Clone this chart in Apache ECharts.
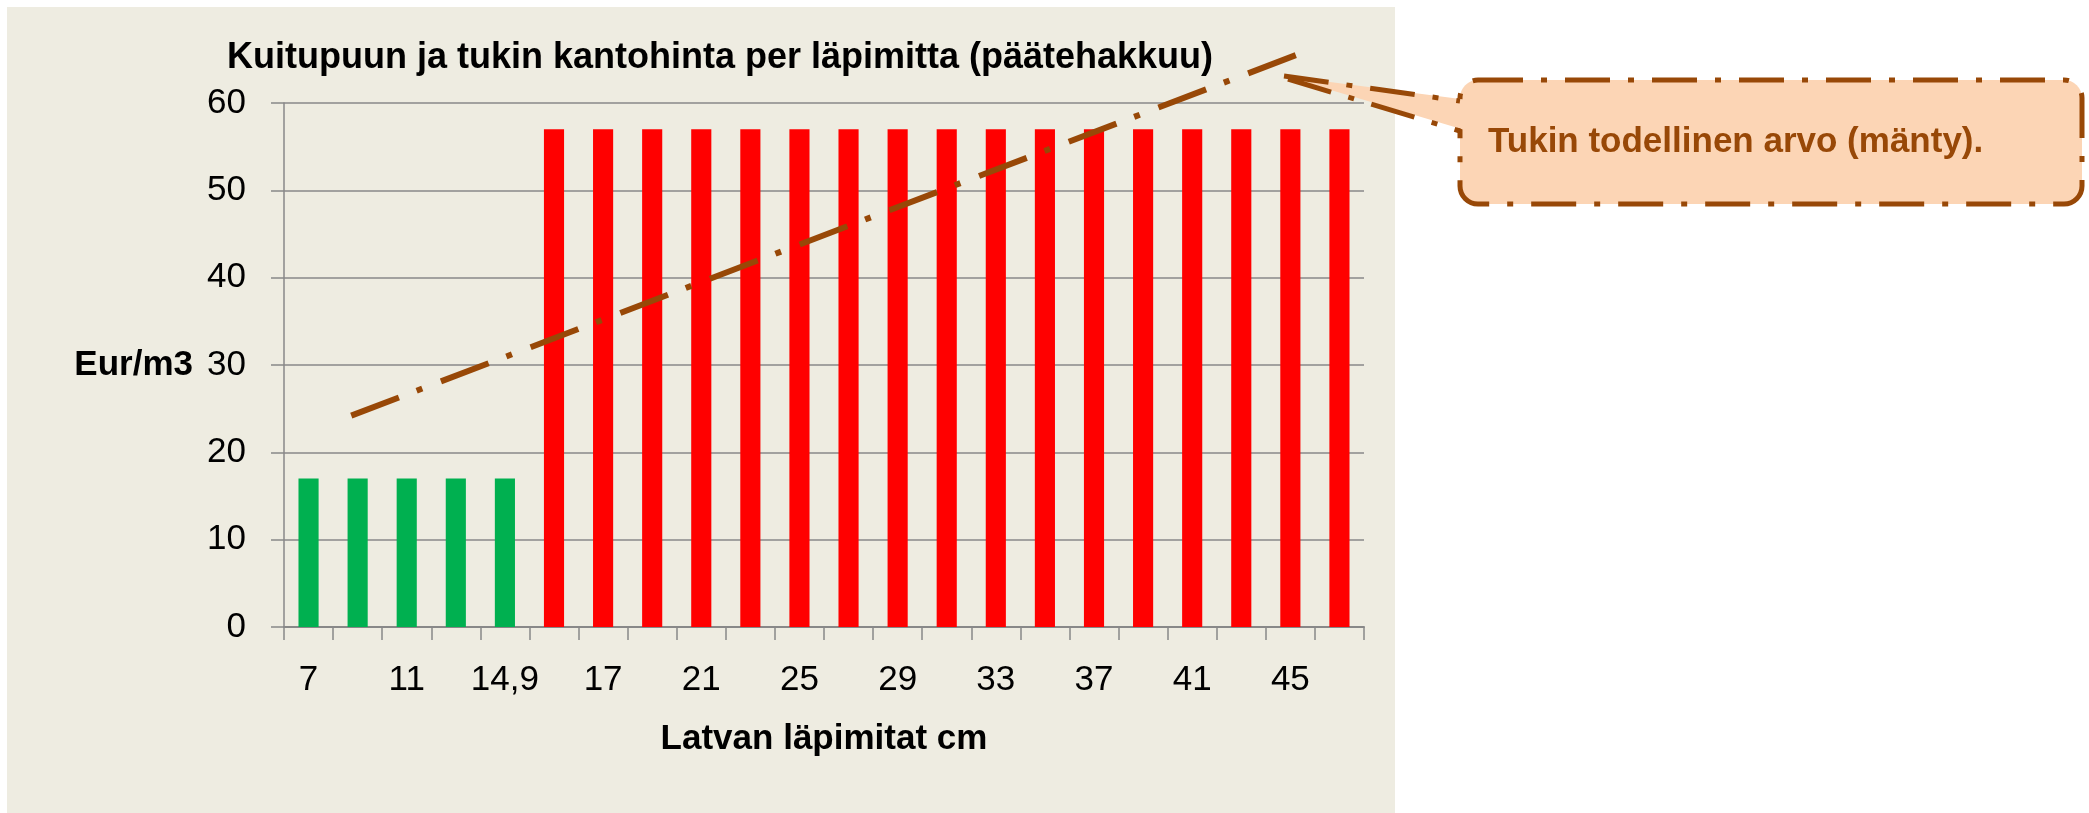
<!DOCTYPE html>
<html>
<head>
<meta charset="utf-8">
<title>Kuitupuun ja tukin kantohinta</title>
<script src="https://cdn.jsdelivr.net/npm/echarts@6/dist/echarts.min.js"></script>
<style>
    html, body { margin: 0; padding: 0; background: #ffffff; }
    #chart { width: 2089px; height: 813px; }
</style>
</head>
<body>
<div id="chart"></div>
<script>
// latvan läpimitat (cm)
var categories = ['7', '9', '11', '13', '14,9', '15', '17', '19', '21', '23', '25',
    '27', '29', '31', '33', '35', '37', '39', '41', '43', '45', '47'];
// kuitupuun kantohinta, eur/m3
var pulpwoodPrice = [17, 17, 17, 17, 17, null, null, null, null, null, null,
    null, null, null, null, null, null, null, null, null, null, null];
// tukin kantohinta, eur/m3
var logPrice = [null, null, null, null, null, 57, 57, 57, 57, 57, 57,
    57, 57, 57, 57, 57, 57, 57, 57, 57, 57, 57];
// tukin todellinen arvo: alku- ja loppupiste (x luokkaindeksinä 0..22)
var realValueLine = [[1.37, 24.2], [20.62, 65.5]];

var yMin = 0, yMax = 60, yStep = 10;

var brown = '#984807';
var axisGray = '#888888';
var font = '"Liberation Sans", Arial, sans-serif';
var dashDot = [51, 19, 6, 20];

var myChart = echarts.init(document.getElementById('chart'));

var option = {
    backgroundColor: '#ffffff',
    animation: false,
    textStyle: { fontFamily: font },
    title: {
        text: 'Kuitupuun ja tukin kantohinta per läpimitta (päätehakkuu)',
        left: 227,
        top: 40,
        padding: 0,
        textStyle: { fontSize: 36, fontWeight: 'bold', color: '#000', fontFamily: font }
    },
    grid: {
        left: 284,
        right: 725,
        top: 103,
        bottom: 186,
        outerBoundsMode: 'none'
    },
    xAxis: [
        {
            type: 'category',
            data: categories,
            boundaryGap: true,
            name: 'Latvan läpimitat cm',
            nameLocation: 'middle',
            nameGap: 95,
            nameTextStyle: { fontSize: 35, fontWeight: 'bold', color: '#000', fontFamily: font },
            axisLine: { lineStyle: { color: axisGray, width: 2 } },
            axisTick: { show: true, interval: 0, length: 13, lineStyle: { color: axisGray, width: 1.5 } },
            axisLabel: { interval: 1, margin: 36, fontSize: 35, color: '#000', fontFamily: font },
            splitLine: { show: false }
        },
        {
            type: 'value',
            min: 0,
            max: categories.length,
            show: false
        }
    ],
    yAxis: {
        type: 'value',
        min: yMin,
        max: yMax,
        interval: yStep,
        name: 'Eur/m3',
        nameLocation: 'middle',
        nameRotate: 0,
        nameGap: 91,
        nameTextStyle: { fontSize: 35, fontWeight: 'bold', color: '#000', fontFamily: font },
        axisLine: { show: true, lineStyle: { color: axisGray, width: 1.5 } },
        axisTick: { show: true, length: 13, lineStyle: { color: axisGray, width: 1.5 } },
        axisLabel: { margin: 38, fontSize: 35, color: '#000', fontFamily: font },
        splitLine: { show: true, lineStyle: { color: axisGray, width: 1.5 } }
    },
    series: [
        {
            name: 'Kuitupuu',
            type: 'bar',
            data: pulpwoodPrice,
            barWidth: '41%',
            barGap: '-100%',
            itemStyle: { color: '#00B050' }
        },
        {
            name: 'Tukki',
            type: 'bar',
            data: logPrice,
            barWidth: '41%',
            barGap: '-100%',
            itemStyle: { color: '#FF0000' }
        },
        {
            name: 'Tukin todellinen arvo',
            type: 'line',
            xAxisIndex: 1,
            data: realValueLine,
            symbol: 'none',
            clip: false,
            z: 5,
            lineStyle: { color: brown, width: 6, type: dashDot, cap: 'butt' }
        }
    ],
    graphic: {
        elements: [
            // kaavion tausta
            {
                type: 'rect',
                z: -100,
                silent: true,
                shape: { x: 7, y: 7, width: 1388, height: 806 },
                style: { fill: '#EEECE1' }
            },
            // selitelaatikko
            {
                type: 'rect',
                z: 100,
                shape: { x: 1460, y: 80, width: 622, height: 124, r: 18 },
                style: { fill: '#FCD5B5', stroke: brown, lineWidth: 5, lineDash: [45, 18, 6, 18] }
            },
            {
                type: 'polygon',
                z: 101,
                shape: { points: [[1284, 76], [1468, 100], [1468, 131]] },
                style: { fill: '#FCD5B5' }
            },
            {
                type: 'polyline',
                z: 102,
                shape: { points: [[1284, 76], [1460, 101]] },
                style: { stroke: brown, lineWidth: 5, lineDash: [45, 18, 6, 18], fill: null }
            },
            {
                type: 'polyline',
                z: 102,
                shape: { points: [[1288, 79], [1460, 131]] },
                style: { stroke: brown, lineWidth: 5, lineDash: [45, 18, 6, 18], fill: null }
            },
            {
                type: 'text',
                z: 103,
                style: {
                    text: 'Tukin todellinen arvo (mänty).',
                    x: 1488,
                    y: 142,
                    verticalAlign: 'middle',
                    fill: brown,
                    font: 'bold 35px ' + font
                }
            }
        ]
    }
};

myChart.setOption(option);
window.addEventListener('resize', function () { myChart.resize(); });
</script>
</body>
</html>
